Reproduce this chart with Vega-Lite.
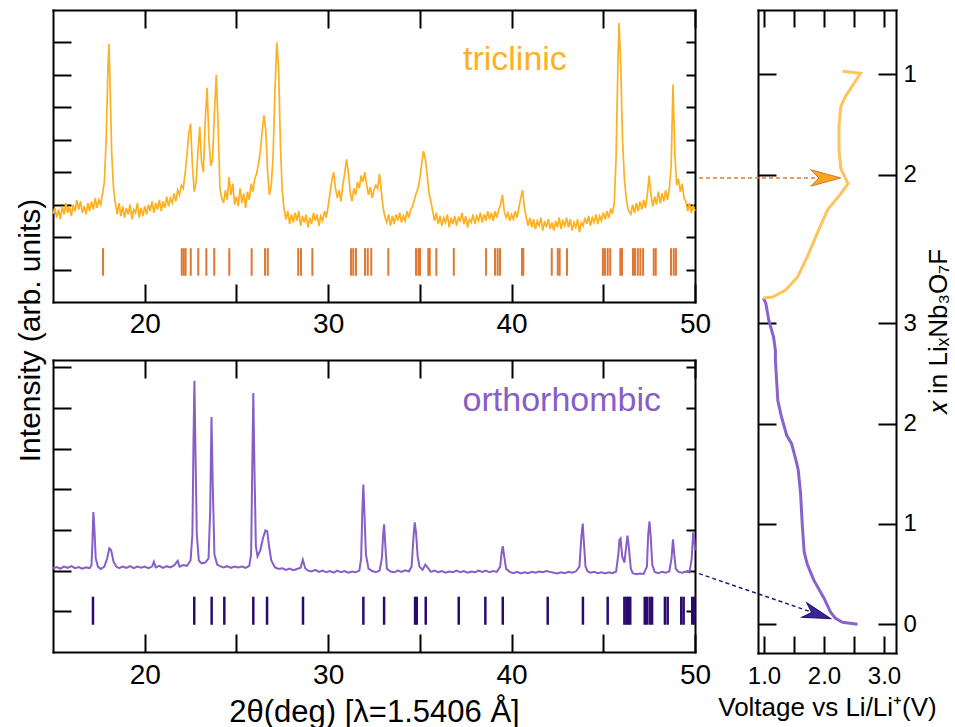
{
  "$schema": "https://vega.github.io/schema/vega-lite/v6.json",
  "background": "white",
  "padding": {"left": 15, "top": 9, "right": 5, "bottom": 5},
  "spacing": -15,
  "config": {
    "font": "Liberation Sans",
    "view": {"stroke": null},
    "axis": {
      "domainColor": "#000", "domainWidth": 2, "domainCap": "square",
      "tickColor": "#000", "tickWidth": 2, "tickSize": -18,
      "grid": false, "labelFont": "Liberation Sans", "labelColor": "#000",
      "labelFlush": false, "labelOverlap": false,
      "titleFont": "Liberation Sans", "titleFontWeight": "normal", "titleColor": "#000"
    }
  },
  "datasets": {
    "tri": [
      {"t":15.0,"i":2.72},{"t":15.1,"i":2.9},{"t":15.2,"i":2.6},{"t":15.3,"i":2.85},{"t":15.4,"i":2.55},{"t":15.5,"i":2.95},{"t":15.6,"i":2.7},{"t":15.7,"i":3.05},{"t":15.8,"i":2.75},{"t":15.9,"i":2.95},
      {"t":16.0,"i":2.65},{"t":16.1,"i":3.0},{"t":16.2,"i":2.8},{"t":16.3,"i":3.15},{"t":16.4,"i":2.85},{"t":16.5,"i":3.1},{"t":16.6,"i":2.75},{"t":16.7,"i":2.95},{"t":16.8,"i":2.7},{"t":16.9,"i":3.05},
      {"t":17.0,"i":2.8},{"t":17.1,"i":3.1},{"t":17.2,"i":2.85},{"t":17.3,"i":3.2},{"t":17.4,"i":2.9},{"t":17.5,"i":3.15},{"t":17.6,"i":3.0},{"t":17.7,"i":3.35},{"t":17.8,"i":3.7},{"t":17.9,"i":5.0},
      {"t":18.0,"i":7.3},{"t":18.05,"i":7.95},{"t":18.1,"i":6.9},{"t":18.2,"i":4.6},{"t":18.3,"i":3.5},{"t":18.4,"i":3.05},
      {"t":18.5,"i":2.7},{"t":18.6,"i":3.05},{"t":18.7,"i":2.65},{"t":18.8,"i":2.95},{"t":18.9,"i":2.6},{"t":19.0,"i":2.9},{"t":19.1,"i":2.7},{"t":19.2,"i":3.0},{"t":19.3,"i":2.55},{"t":19.4,"i":2.85},
      {"t":19.5,"i":2.75},{"t":19.6,"i":3.05},{"t":19.7,"i":2.6},{"t":19.8,"i":2.9},{"t":19.9,"i":2.65},{"t":20.0,"i":2.95},{"t":20.1,"i":2.7},{"t":20.2,"i":3.0},{"t":20.3,"i":2.8},{"t":20.4,"i":3.1},
      {"t":20.5,"i":2.75},{"t":20.6,"i":3.05},{"t":20.7,"i":2.85},{"t":20.8,"i":3.15},{"t":20.9,"i":2.8},{"t":21.0,"i":3.1},{"t":21.1,"i":2.9},{"t":21.2,"i":3.25},{"t":21.3,"i":2.95},{"t":21.4,"i":3.2},
      {"t":21.5,"i":3.05},{"t":21.6,"i":3.35},{"t":21.7,"i":3.1},{"t":21.8,"i":3.45},{"t":21.9,"i":3.3},{"t":22.0,"i":3.6},{"t":22.1,"i":3.5},{"t":22.2,"i":3.95},{"t":22.3,"i":4.5},{"t":22.4,"i":5.2},
      {"t":22.5,"i":5.5},{"t":22.6,"i":4.2},{"t":22.7,"i":3.4},{"t":22.8,"i":3.7},{"t":22.9,"i":4.6},{"t":23.0,"i":5.4},{"t":23.1,"i":4.3},{"t":23.2,"i":4.0},{"t":23.3,"i":5.6},{"t":23.4,"i":6.6},
      {"t":23.5,"i":5.0},{"t":23.6,"i":4.2},{"t":23.7,"i":4.4},{"t":23.8,"i":5.8},{"t":23.9,"i":7.0},{"t":24.0,"i":5.5},{"t":24.1,"i":3.5},{"t":24.2,"i":3.2},{"t":24.3,"i":3.05},{"t":24.4,"i":3.45},
      {"t":24.5,"i":3.15},{"t":24.6,"i":3.85},{"t":24.7,"i":3.3},{"t":24.8,"i":3.65},{"t":24.9,"i":3.0},{"t":25.0,"i":3.25},{"t":25.1,"i":2.95},{"t":25.2,"i":3.5},{"t":25.3,"i":3.05},{"t":25.4,"i":3.35},
      {"t":25.5,"i":2.9},{"t":25.6,"i":3.4},{"t":25.7,"i":3.15},{"t":25.8,"i":3.65},{"t":25.9,"i":3.4},{"t":26.0,"i":3.8},{"t":26.1,"i":3.95},{"t":26.2,"i":4.25},{"t":26.3,"i":4.65},{"t":26.4,"i":5.25},
      {"t":26.5,"i":5.75},{"t":26.6,"i":5.3},{"t":26.7,"i":4.0},{"t":26.8,"i":3.3},{"t":26.9,"i":3.6},{"t":27.0,"i":4.5},{"t":27.1,"i":6.5},{"t":27.2,"i":8.0},{"t":27.3,"i":7.2},{"t":27.4,"i":4.8},
      {"t":27.5,"i":3.4},{"t":27.6,"i":2.85},{"t":27.7,"i":2.55},{"t":27.8,"i":2.8},{"t":27.9,"i":2.4},{"t":28.0,"i":2.7},{"t":28.1,"i":2.45},{"t":28.2,"i":2.75},{"t":28.3,"i":2.5},{"t":28.4,"i":2.8},
      {"t":28.5,"i":2.35},{"t":28.6,"i":2.65},{"t":28.7,"i":2.45},{"t":28.8,"i":2.7},{"t":28.9,"i":2.3},{"t":29.0,"i":2.6},{"t":29.1,"i":2.4},{"t":29.2,"i":2.75},{"t":29.3,"i":2.5},{"t":29.4,"i":2.7},
      {"t":29.5,"i":2.35},{"t":29.6,"i":2.65},{"t":29.7,"i":2.5},{"t":29.8,"i":2.8},{"t":29.9,"i":2.6},{"t":30.0,"i":2.95},{"t":30.1,"i":3.35},{"t":30.2,"i":3.75},{"t":30.3,"i":4.0},{"t":30.4,"i":3.5},
      {"t":30.5,"i":3.2},{"t":30.6,"i":3.45},{"t":30.7,"i":3.1},{"t":30.8,"i":3.6},{"t":30.9,"i":3.95},{"t":31.0,"i":4.4},{"t":31.1,"i":4.0},{"t":31.2,"i":3.4},{"t":31.3,"i":3.1},{"t":31.4,"i":3.5},
      {"t":31.5,"i":3.3},{"t":31.6,"i":3.7},{"t":31.7,"i":3.5},{"t":31.8,"i":3.9},{"t":31.9,"i":3.7},{"t":32.0,"i":4.0},{"t":32.1,"i":3.6},{"t":32.2,"i":3.3},{"t":32.3,"i":3.55},{"t":32.4,"i":3.2},
      {"t":32.5,"i":3.45},{"t":32.6,"i":3.6},{"t":32.7,"i":3.5},{"t":32.8,"i":3.95},{"t":32.9,"i":3.4},{"t":33.0,"i":2.9},{"t":33.1,"i":2.6},{"t":33.2,"i":2.45},{"t":33.3,"i":2.7},{"t":33.4,"i":2.35},
      {"t":33.5,"i":2.65},{"t":33.6,"i":2.4},{"t":33.7,"i":2.7},{"t":33.8,"i":2.5},{"t":33.9,"i":2.75},{"t":34.0,"i":2.45},{"t":34.1,"i":2.65},{"t":34.2,"i":2.5},{"t":34.3,"i":2.8},{"t":34.4,"i":2.6},
      {"t":34.5,"i":2.85},{"t":34.6,"i":2.95},{"t":34.7,"i":3.15},{"t":34.8,"i":3.35},{"t":34.9,"i":3.5},{"t":35.0,"i":3.8},{"t":35.1,"i":4.25},{"t":35.2,"i":4.65},{"t":35.3,"i":4.4},{"t":35.4,"i":3.9},
      {"t":35.5,"i":3.35},{"t":35.6,"i":3.1},{"t":35.7,"i":2.8},{"t":35.8,"i":2.5},{"t":35.9,"i":2.75},{"t":36.0,"i":2.4},{"t":36.1,"i":2.65},{"t":36.2,"i":2.35},{"t":36.3,"i":2.6},{"t":36.4,"i":2.45},
      {"t":36.5,"i":2.7},{"t":36.6,"i":2.3},{"t":36.7,"i":2.6},{"t":36.8,"i":2.4},{"t":36.9,"i":2.65},{"t":37.0,"i":2.35},{"t":37.1,"i":2.6},{"t":37.2,"i":2.5},{"t":37.3,"i":2.75},{"t":37.4,"i":2.4},
      {"t":37.5,"i":2.65},{"t":37.6,"i":2.3},{"t":37.7,"i":2.55},{"t":37.8,"i":2.45},{"t":37.9,"i":2.7},{"t":38.0,"i":2.4},{"t":38.1,"i":2.65},{"t":38.2,"i":2.5},{"t":38.3,"i":2.75},{"t":38.4,"i":2.45},
      {"t":38.5,"i":2.7},{"t":38.6,"i":2.5},{"t":38.7,"i":2.8},{"t":38.8,"i":2.55},{"t":38.9,"i":2.75},{"t":39.0,"i":2.5},{"t":39.1,"i":2.8},{"t":39.2,"i":2.6},{"t":39.3,"i":2.85},{"t":39.4,"i":3.0},
      {"t":39.5,"i":3.3},{"t":39.6,"i":2.8},{"t":39.7,"i":2.6},{"t":39.8,"i":2.75},{"t":39.9,"i":2.5},{"t":40.0,"i":2.7},{"t":40.1,"i":2.55},{"t":40.2,"i":2.8},{"t":40.3,"i":2.6},{"t":40.4,"i":2.9},
      {"t":40.5,"i":3.2},{"t":40.6,"i":3.45},{"t":40.7,"i":2.9},{"t":40.8,"i":2.6},{"t":40.9,"i":2.35},{"t":41.0,"i":2.6},{"t":41.1,"i":2.3},{"t":41.2,"i":2.55},{"t":41.3,"i":2.25},{"t":41.4,"i":2.5},
      {"t":41.5,"i":2.35},{"t":41.6,"i":2.6},{"t":41.7,"i":2.2},{"t":41.8,"i":2.5},{"t":41.9,"i":2.3},{"t":42.0,"i":2.55},{"t":42.1,"i":2.25},{"t":42.2,"i":2.45},{"t":42.3,"i":2.2},{"t":42.4,"i":2.5},
      {"t":42.5,"i":2.3},{"t":42.6,"i":2.6},{"t":42.7,"i":2.25},{"t":42.8,"i":2.5},{"t":42.9,"i":2.35},{"t":43.0,"i":2.6},{"t":43.1,"i":2.3},{"t":43.2,"i":2.55},{"t":43.3,"i":2.2},{"t":43.4,"i":2.45},
      {"t":43.5,"i":2.3},{"t":43.6,"i":2.55},{"t":43.7,"i":2.15},{"t":43.8,"i":2.45},{"t":43.9,"i":2.35},{"t":44.0,"i":2.6},{"t":44.1,"i":2.4},{"t":44.2,"i":2.65},{"t":44.3,"i":2.35},{"t":44.4,"i":2.6},
      {"t":44.5,"i":2.45},{"t":44.6,"i":2.7},{"t":44.7,"i":2.4},{"t":44.8,"i":2.65},{"t":44.9,"i":2.5},{"t":45.0,"i":2.75},{"t":45.1,"i":2.55},{"t":45.2,"i":2.8},{"t":45.3,"i":2.6},{"t":45.4,"i":2.85},
      {"t":45.5,"i":2.75},{"t":45.6,"i":3.05},{"t":45.7,"i":4.5},{"t":45.8,"i":7.4},{"t":45.86,"i":8.6},{"t":45.95,"i":7.3},{"t":46.05,"i":5.0},{"t":46.15,"i":3.8},{"t":46.25,"i":3.2},{"t":46.35,"i":2.85},
      {"t":46.5,"i":2.7},{"t":46.6,"i":3.0},{"t":46.7,"i":2.75},{"t":46.8,"i":3.05},{"t":46.9,"i":2.8},{"t":47.0,"i":3.1},{"t":47.1,"i":2.85},{"t":47.2,"i":3.15},{"t":47.3,"i":2.9},{"t":47.4,"i":3.3},
      {"t":47.5,"i":3.9},{"t":47.6,"i":3.3},{"t":47.7,"i":2.95},{"t":47.8,"i":3.25},{"t":47.9,"i":3.0},{"t":48.0,"i":3.4},{"t":48.1,"i":3.05},{"t":48.2,"i":3.35},{"t":48.3,"i":3.1},{"t":48.4,"i":3.45},
      {"t":48.5,"i":3.15},{"t":48.6,"i":3.5},{"t":48.7,"i":4.2},{"t":48.8,"i":6.7},{"t":48.9,"i":4.6},{"t":49.0,"i":3.6},{"t":49.1,"i":3.8},{"t":49.2,"i":3.4},{"t":49.3,"i":3.65},{"t":49.4,"i":3.2},
      {"t":49.5,"i":3.1},{"t":49.6,"i":2.8},{"t":49.7,"i":3.05},{"t":49.8,"i":2.75},{"t":49.9,"i":2.95},{"t":50.0,"i":2.8}
    ],
    "tribars": [
      {"t":17.73},{"t":22.02},{"t":22.13},{"t":22.23},{"t":22.51},{"t":22.92},{"t":23.36},{"t":23.79},{"t":24.61},{"t":25.83},
      {"t":26.56},{"t":26.71},{"t":28.37},{"t":28.52},{"t":29.14},{"t":31.25},{"t":31.37},{"t":31.52},{"t":32.01},{"t":32.16},
      {"t":32.35},{"t":33.28},{"t":34.79},{"t":34.92},{"t":35.01},{"t":35.46},{"t":35.54},{"t":35.9},{"t":36.85},{"t":38.61},
      {"t":39.1},{"t":39.24},{"t":39.37},{"t":40.57},{"t":40.64},{"t":42.19},{"t":42.52},{"t":42.62},{"t":43.02},{"t":44.98},
      {"t":45.09},{"t":45.24},{"t":45.38},{"t":45.93},{"t":46.02},{"t":46.62},{"t":46.73},{"t":46.88},{"t":47.02},{"t":47.17},
      {"t":47.75},{"t":47.86},{"t":48.69},{"t":48.84},{"t":48.96}
    ],
    "ort": [
      {"t":15.0,"i":2.06},{"t":15.2,"i":2.09},{"t":15.4,"i":2.05},{"t":15.6,"i":2.1},{"t":15.8,"i":2.07},{"t":16.0,"i":2.11},{"t":16.2,"i":2.06},{"t":16.4,"i":2.09},{"t":16.6,"i":2.05},{"t":16.8,"i":2.08},
      {"t":17.0,"i":2.06},{"t":17.1,"i":2.14},{"t":17.15,"i":2.7},{"t":17.2,"i":3.44},{"t":17.26,"i":3.0},{"t":17.33,"i":2.3},{"t":17.45,"i":2.1},{"t":17.6,"i":2.04},{"t":17.8,"i":2.1},{"t":17.95,"i":2.3},
      {"t":18.07,"i":2.55},{"t":18.17,"i":2.5},{"t":18.3,"i":2.22},{"t":18.45,"i":2.1},{"t":18.6,"i":2.06},{"t":18.8,"i":2.1},{"t":19.0,"i":2.07},{"t":19.2,"i":2.11},{"t":19.4,"i":2.06},{"t":19.6,"i":2.1},
      {"t":19.8,"i":2.07},{"t":20.0,"i":2.1},{"t":20.2,"i":2.06},{"t":20.4,"i":2.1},{"t":20.5,"i":2.22},{"t":20.6,"i":2.08},{"t":20.8,"i":2.12},{"t":21.0,"i":2.07},{"t":21.2,"i":2.11},{"t":21.4,"i":2.08},
      {"t":21.6,"i":2.13},{"t":21.8,"i":2.24},{"t":21.9,"i":2.1},{"t":22.1,"i":2.14},{"t":22.3,"i":2.12},{"t":22.5,"i":2.25},{"t":22.6,"i":2.9},{"t":22.66,"i":5.2},{"t":22.71,"i":6.67},{"t":22.77,"i":4.8},
      {"t":22.84,"i":2.9},{"t":22.95,"i":2.25},{"t":23.1,"i":2.18},{"t":23.3,"i":2.2},{"t":23.48,"i":2.3},{"t":23.57,"i":3.5},{"t":23.64,"i":5.78},{"t":23.71,"i":4.1},{"t":23.8,"i":2.4},{"t":23.95,"i":2.15},
      {"t":24.1,"i":2.11},{"t":24.3,"i":2.08},{"t":24.5,"i":2.11},{"t":24.7,"i":2.07},{"t":24.9,"i":2.1},{"t":25.1,"i":2.08},{"t":25.3,"i":2.1},{"t":25.5,"i":2.07},{"t":25.7,"i":2.12},{"t":25.8,"i":2.4},
      {"t":25.86,"i":4.4},{"t":25.92,"i":6.37},{"t":25.98,"i":4.6},{"t":26.06,"i":2.6},{"t":26.15,"i":2.35},{"t":26.3,"i":2.5},{"t":26.45,"i":2.8},{"t":26.58,"i":2.99},{"t":26.68,"i":2.97},{"t":26.78,"i":2.6},
      {"t":26.9,"i":2.25},{"t":27.1,"i":2.08},{"t":27.3,"i":2.04},{"t":27.5,"i":2.06},{"t":27.7,"i":2.02},{"t":27.9,"i":2.05},{"t":28.1,"i":2.01},{"t":28.3,"i":2.04},{"t":28.5,"i":2.07},{"t":28.62,"i":2.27},
      {"t":28.75,"i":2.06},{"t":28.9,"i":2.0},{"t":29.1,"i":1.98},{"t":29.3,"i":2.02},{"t":29.5,"i":1.97},{"t":29.7,"i":2.0},{"t":29.9,"i":1.96},{"t":30.1,"i":1.99},{"t":30.3,"i":1.95},{"t":30.5,"i":2.0},
      {"t":30.7,"i":1.96},{"t":30.9,"i":1.99},{"t":31.1,"i":1.95},{"t":31.3,"i":1.98},{"t":31.5,"i":1.96},{"t":31.7,"i":2.0},{"t":31.8,"i":2.3},{"t":31.86,"i":3.4},{"t":31.92,"i":4.12},{"t":31.98,"i":3.4},
      {"t":32.06,"i":2.4},{"t":32.2,"i":2.05},{"t":32.4,"i":1.99},{"t":32.6,"i":1.96},{"t":32.8,"i":2.0},{"t":32.93,"i":2.3},{"t":33.0,"i":2.9},{"t":33.05,"i":3.14},{"t":33.12,"i":2.6},{"t":33.2,"i":2.05},
      {"t":33.4,"i":1.98},{"t":33.6,"i":1.96},{"t":33.8,"i":2.0},{"t":34.0,"i":1.97},{"t":34.2,"i":2.01},{"t":34.4,"i":1.98},{"t":34.55,"i":2.1},{"t":34.65,"i":2.8},{"t":34.72,"i":3.19},{"t":34.79,"i":2.95},
      {"t":34.88,"i":2.35},{"t":34.98,"i":2.1},{"t":35.15,"i":2.02},{"t":35.3,"i":2.15},{"t":35.42,"i":2.08},{"t":35.6,"i":1.97},{"t":35.8,"i":2.0},{"t":36.0,"i":1.96},{"t":36.2,"i":1.99},{"t":36.4,"i":1.95},
      {"t":36.6,"i":1.98},{"t":36.8,"i":1.96},{"t":37.0,"i":2.0},{"t":37.2,"i":1.96},{"t":37.4,"i":1.99},{"t":37.6,"i":1.95},{"t":37.8,"i":1.98},{"t":38.0,"i":1.96},{"t":38.2,"i":2.0},{"t":38.4,"i":1.97},
      {"t":38.6,"i":2.0},{"t":38.8,"i":1.96},{"t":39.0,"i":1.99},{"t":39.2,"i":1.97},{"t":39.38,"i":2.1},{"t":39.46,"i":2.45},{"t":39.52,"i":2.6},{"t":39.6,"i":2.35},{"t":39.7,"i":2.05},{"t":39.9,"i":1.97},
      {"t":40.1,"i":1.94},{"t":40.3,"i":1.97},{"t":40.5,"i":1.93},{"t":40.7,"i":1.96},{"t":40.9,"i":1.94},{"t":41.1,"i":1.97},{"t":41.3,"i":1.95},{"t":41.5,"i":1.98},{"t":41.7,"i":1.96},{"t":41.9,"i":1.99},
      {"t":42.1,"i":1.97},{"t":42.3,"i":1.95},{"t":42.5,"i":1.93},{"t":42.7,"i":1.96},{"t":42.9,"i":1.94},{"t":43.1,"i":1.97},{"t":43.3,"i":1.95},{"t":43.5,"i":1.98},{"t":43.7,"i":2.1},{"t":43.8,"i":2.8},
      {"t":43.88,"i":3.16},{"t":43.95,"i":2.65},{"t":44.03,"i":2.1},{"t":44.15,"i":1.98},{"t":44.3,"i":1.95},{"t":44.5,"i":1.97},{"t":44.7,"i":1.94},{"t":44.9,"i":1.96},{"t":45.1,"i":1.93},{"t":45.3,"i":1.96},
      {"t":45.5,"i":1.94},{"t":45.7,"i":1.98},{"t":45.82,"i":2.4},{"t":45.88,"i":2.75},{"t":45.94,"i":2.79},{"t":46.03,"i":2.35},{"t":46.15,"i":2.2},{"t":46.25,"i":2.6},{"t":46.32,"i":2.86},{"t":46.4,"i":2.55},
      {"t":46.5,"i":2.05},{"t":46.6,"i":1.94},{"t":46.8,"i":1.91},{"t":47.0,"i":1.93},{"t":47.2,"i":1.92},{"t":47.38,"i":2.1},{"t":47.45,"i":2.9},{"t":47.52,"i":3.21},{"t":47.59,"i":2.8},{"t":47.67,"i":2.15},
      {"t":47.8,"i":1.97},{"t":48.0,"i":1.94},{"t":48.2,"i":1.97},{"t":48.4,"i":1.95},{"t":48.6,"i":1.98},{"t":48.72,"i":2.3},{"t":48.8,"i":2.77},{"t":48.87,"i":2.4},{"t":48.95,"i":2.05},{"t":49.1,"i":1.97},
      {"t":49.3,"i":1.95},{"t":49.5,"i":1.98},{"t":49.7,"i":1.96},{"t":49.82,"i":2.3},{"t":49.9,"i":2.94},{"t":49.96,"i":2.8},{"t":50.0,"i":2.5}
    ],
    "ortbars": [
      {"t":17.18},{"t":22.7},{"t":23.65},{"t":24.34},{"t":25.92},{"t":26.67},{"t":28.63},{"t":31.92},{"t":33.05},{"t":34.74},
      {"t":34.83},{"t":35.32},{"t":37.12},{"t":38.57},{"t":39.52},{"t":41.97},{"t":43.89},{"t":45.24},{"t":46.15},{"t":46.26},
      {"t":46.36},{"t":46.47},{"t":47.26},{"t":47.38},{"t":47.53},{"t":47.66},{"t":48.36},{"t":48.51},{"t":49.25},{"t":49.38},
      {"t":49.85},{"t":49.96}
    ],
    "ec": [
      {"s":"d","o":0,"V":2.56,"c":0},{"s":"d","o":1,"V":2.31,"c":0.02},{"s":"d","o":2,"V":2.19,"c":0.06},{"s":"d","o":3,"V":2.11,"c":0.12},
      {"s":"d","o":4,"V":2.0,"c":0.26},{"s":"d","o":5,"V":1.83,"c":0.44},{"s":"d","o":6,"V":1.72,"c":0.6},{"s":"d","o":7,"V":1.67,"c":0.72},
      {"s":"d","o":8,"V":1.64,"c":0.97},{"s":"d","o":9,"V":1.61,"c":1.3},{"s":"d","o":10,"V":1.57,"c":1.54},{"s":"d","o":11,"V":1.53,"c":1.64},
      {"s":"d","o":12,"V":1.46,"c":1.8},{"s":"d","o":13,"V":1.38,"c":1.88},{"s":"d","o":14,"V":1.29,"c":2.07},{"s":"d","o":15,"V":1.23,"c":2.23},
      {"s":"d","o":16,"V":1.21,"c":2.43},{"s":"d","o":17,"V":1.19,"c":2.63},{"s":"d","o":18,"V":1.19,"c":2.73},{"s":"d","o":19,"V":1.16,"c":2.86},
      {"s":"d","o":20,"V":1.08,"c":3.03},{"s":"d","o":21,"V":1.03,"c":3.2},{"s":"d","o":22,"V":0.99,"c":3.25},
      {"s":"c","o":0,"V":0.99,"c":3.25},{"s":"c","o":1,"V":1.14,"c":3.26},{"s":"c","o":2,"V":1.36,"c":3.33},{"s":"c","o":3,"V":1.56,"c":3.46},
      {"s":"c","o":4,"V":1.72,"c":3.66},{"s":"c","o":5,"V":1.89,"c":3.9},{"s":"c","o":6,"V":2.06,"c":4.13},{"s":"c","o":7,"V":2.28,"c":4.29},
      {"s":"c","o":8,"V":2.4,"c":4.39},{"s":"c","o":9,"V":2.36,"c":4.44},{"s":"c","o":10,"V":2.28,"c":4.54},{"s":"c","o":11,"V":2.25,"c":4.73},
      {"s":"c","o":12,"V":2.25,"c":4.96},{"s":"c","o":13,"V":2.28,"c":5.16},{"s":"c","o":14,"V":2.36,"c":5.26},{"s":"c","o":15,"V":2.5,"c":5.39},
      {"s":"c","o":16,"V":2.61,"c":5.49},{"s":"c","o":17,"V":2.31,"c":5.51}
    ],
    "arrows": [
      {"a":"tri","o":0,"V":-0.083,"c":4.447},{"a":"tri","o":1,"V":1.95,"c":4.447},
      {"a":"ort","o":0,"V":-0.083,"c":0.505},{"a":"ort","o":1,"V":1.8,"c":0.12}
    ],
    "heads": [
      {"a":"tri","V":2.028,"c":4.447},{"a":"ort","V":1.892,"c":0.1}
    ]
  },
  "hconcat": [
    {
      "bounds": "flush",
      "spacing": 58,
      "vconcat": [
        {
          "width": 642, "height": 292,
          "resolve": {"axis": {"x": "independent", "y": "independent"}},
          "layer": [
            {
              "data": {"name": "tri"},
              "mark": {"type": "line", "color": "#fdb020", "strokeWidth": 1.7, "clip": false},
              "encoding": {
                "x": {"field": "t", "type": "quantitative", "scale": {"domain": [15, 50], "nice": false},
                      "axis": {"orient": "bottom", "values": [20, 25, 30, 35, 40, 45, 50], "labelExpr": "datum.value % 10 === 0 ? datum.label : ''", "labelFontSize": 28, "labelPadding": 26, "title": null}},
                "y": {"field": "i", "type": "quantitative", "scale": {"domain": [0, 9], "nice": false},
                      "axis": {"orient": "left", "values": [1, 2, 3, 4, 5, 6, 7, 8], "labels": false, "title": "Intensity (arb. units)", "titleFontSize": 30, "titleY": 320, "titlePadding": 7}}
              }
            },
            {
              "data": {"name": "tribars"},
              "mark": {"type": "rule", "color": "#de7832", "strokeWidth": 2},
              "encoding": {
                "x": {"field": "t", "type": "quantitative", "scale": {"domain": [15, 50], "nice": false},
                      "axis": {"orient": "top", "values": [20, 25, 30, 35, 40, 45, 50], "labels": false, "title": null}},
                "y": {"datum": 0.81, "type": "quantitative", "scale": {"domain": [0, 9], "nice": false},
                      "axis": {"orient": "right", "values": [1, 2, 3, 4, 5, 6, 7, 8], "labels": false, "tickSize": -9, "title": null}},
                "y2": {"datum": 1.66}
              }
            },
            {
              "data": {"values": [{}]},
              "mark": {"type": "text", "text": "triclinic", "color": "#fdb020", "fontSize": 34, "align": "left", "baseline": "alphabetic", "font": "Liberation Sans"},
              "encoding": {
                "x": {"datum": 37.35, "type": "quantitative", "axis": null},
                "y": {"datum": 7.15, "type": "quantitative", "axis": null}
              }
            }
          ]
        },
        {
          "width": 642, "height": 292,
          "resolve": {"axis": {"x": "independent", "y": "independent"}},
          "layer": [
            {
              "data": {"name": "ort"},
              "mark": {"type": "line", "color": "#875ec8", "strokeWidth": 2, "clip": false},
              "encoding": {
                "x": {"field": "t", "type": "quantitative", "scale": {"domain": [15, 50], "nice": false},
                      "axis": {"orient": "bottom", "values": [20, 25, 30, 35, 40, 45, 50], "labelExpr": "datum.value % 10 === 0 ? datum.label : ''", "labelFontSize": 28, "labelPadding": 27, "title": "2θ(deg) [λ=1.5406 Å]", "titleFontSize": 31, "titlePadding": 8}},
                "y": {"field": "i", "type": "quantitative", "scale": {"domain": [0, 7.18], "nice": false},
                      "axis": {"orient": "left", "values": [1, 2, 3, 4, 5, 6, 7], "labels": false, "title": null}}
              }
            },
            {
              "data": {"name": "ortbars"},
              "mark": {"type": "rule", "color": "#2a0a6e", "strokeWidth": 2.5},
              "encoding": {
                "x": {"field": "t", "type": "quantitative", "scale": {"domain": [15, 50], "nice": false},
                      "axis": {"orient": "top", "values": [20, 25, 30, 35, 40, 45, 50], "labels": false, "title": null}},
                "y": {"datum": 0.67, "type": "quantitative", "scale": {"domain": [0, 7.18], "nice": false},
                      "axis": {"orient": "right", "values": [1, 2, 3, 4, 5, 6, 7], "labels": false, "tickSize": -9, "title": null}},
                "y2": {"datum": 1.36}
              }
            },
            {
              "data": {"values": [{}]},
              "mark": {"type": "text", "text": "orthorhombic", "color": "#875ec8", "fontSize": 34, "align": "left", "baseline": "alphabetic", "font": "Liberation Sans"},
              "encoding": {
                "x": {"datum": 37.33, "type": "quantitative", "axis": null},
                "y": {"datum": 5.93, "type": "quantitative", "axis": null}
              }
            }
          ]
        }
      ]
    },
    {
      "width": 138, "height": 643,
      "resolve": {"axis": {"x": "independent", "y": "independent"}},
      "layer": [
        {
          "data": {"name": "ec"},
          "transform": [{"filter": "datum.s === 'd'"}],
          "mark": {"type": "line", "color": "#8a62cc", "strokeWidth": 3, "clip": false},
          "encoding": {
            "x": {"field": "V", "type": "quantitative", "scale": {"domain": [0.9, 3.2], "nice": false},
                  "axis": {"orient": "bottom", "values": [1, 1.5, 2, 2.5, 3], "labelExpr": "datum.value % 1 === 0 ? format(datum.value, '.1f') : ''", "labelFontSize": 24, "labelPadding": 28, "tickSize": -17, "title": "Voltage vs Li/Li⁺(V)", "titleFontSize": 26, "titlePadding": 6}},
            "y": {"field": "c", "type": "quantitative", "scale": {"domain": [-0.286, 6.12], "nice": false},
                  "axis": {"orient": "right", "values": [0, 1, 2, 3, 4.48, 5.48], "labelExpr": "datum.value > 3.5 ? format(6.48 - datum.value, 'd') : format(datum.value, 'd')", "labelFontSize": 24, "labelPadding": 25, "title": "𝑥 in LiₓNb₃O₇F", "titleFontSize": 26, "titleAngle": 270, "titleBaseline": "top", "titlePadding": 9}},
            "order": {"field": "o", "type": "quantitative"}
          }
        },
        {
          "data": {"name": "ec"},
          "transform": [{"filter": "datum.s === 'c'"}],
          "mark": {"type": "line", "color": "#fdc45a", "strokeWidth": 3, "clip": false},
          "encoding": {
            "x": {"field": "V", "type": "quantitative", "scale": {"domain": [0.9, 3.2], "nice": false}, "axis": null},
            "y": {"field": "c", "type": "quantitative", "scale": {"domain": [-0.286, 6.12], "nice": false}, "axis": null},
            "order": {"field": "o", "type": "quantitative"}
          }
        },
        {
          "data": {"name": "arrows"},
          "transform": [{"filter": "datum.a === 'tri'"}],
          "mark": {"type": "line", "color": "#e07b30", "strokeWidth": 1.5, "strokeDash": [4, 3], "clip": false},
          "encoding": {
            "x": {"field": "V", "type": "quantitative", "scale": {"domain": [0.9, 3.2], "nice": false},
                  "axis": {"orient": "top", "values": [1, 1.5, 2, 2.5, 3], "labels": false, "tickSize": -17, "title": null}},
            "y": {"field": "c", "type": "quantitative", "scale": {"domain": [-0.286, 6.12], "nice": false},
                  "axis": {"orient": "left", "values": [0, 1, 2, 3, 4.48, 5.48], "labels": false, "title": null}},
            "order": {"field": "o", "type": "quantitative"}
          }
        },
        {
          "data": {"name": "arrows"},
          "transform": [{"filter": "datum.a === 'ort'"}],
          "mark": {"type": "line", "color": "#2b1580", "strokeWidth": 1.5, "strokeDash": [4, 3], "clip": false},
          "encoding": {
            "x": {"field": "V", "type": "quantitative", "scale": {"domain": [0.9, 3.2], "nice": false}, "axis": null},
            "y": {"field": "c", "type": "quantitative", "scale": {"domain": [-0.286, 6.12], "nice": false}, "axis": null},
            "order": {"field": "o", "type": "quantitative"}
          }
        },
        {
          "data": {"name": "heads"},
          "transform": [{"filter": "datum.a === 'tri'"}],
          "mark": {"type": "point", "shape": "M1,0L-1,-0.55L-0.45,0L-1,0.55Z", "filled": true, "fill": "#f8a51f", "stroke": "#d8742a", "strokeWidth": 1, "size": 900, "opacity": 1, "angle": 0, "clip": false},
          "encoding": {
            "x": {"field": "V", "type": "quantitative", "scale": {"domain": [0.9, 3.2], "nice": false}, "axis": null},
            "y": {"field": "c", "type": "quantitative", "scale": {"domain": [-0.286, 6.12], "nice": false}, "axis": null}
          }
        },
        {
          "data": {"name": "heads"},
          "transform": [{"filter": "datum.a === 'ort'"}],
          "mark": {"type": "point", "shape": "M1,0L-1,-0.55L-0.45,0L-1,0.55Z", "filled": true, "fill": "#3b2593", "stroke": "#24126e", "strokeWidth": 1, "size": 770, "opacity": 1, "angle": 18, "clip": false},
          "encoding": {
            "x": {"field": "V", "type": "quantitative", "scale": {"domain": [0.9, 3.2], "nice": false}, "axis": null},
            "y": {"field": "c", "type": "quantitative", "scale": {"domain": [-0.286, 6.12], "nice": false}, "axis": null}
          }
        }
      ]
    }
  ]
}
